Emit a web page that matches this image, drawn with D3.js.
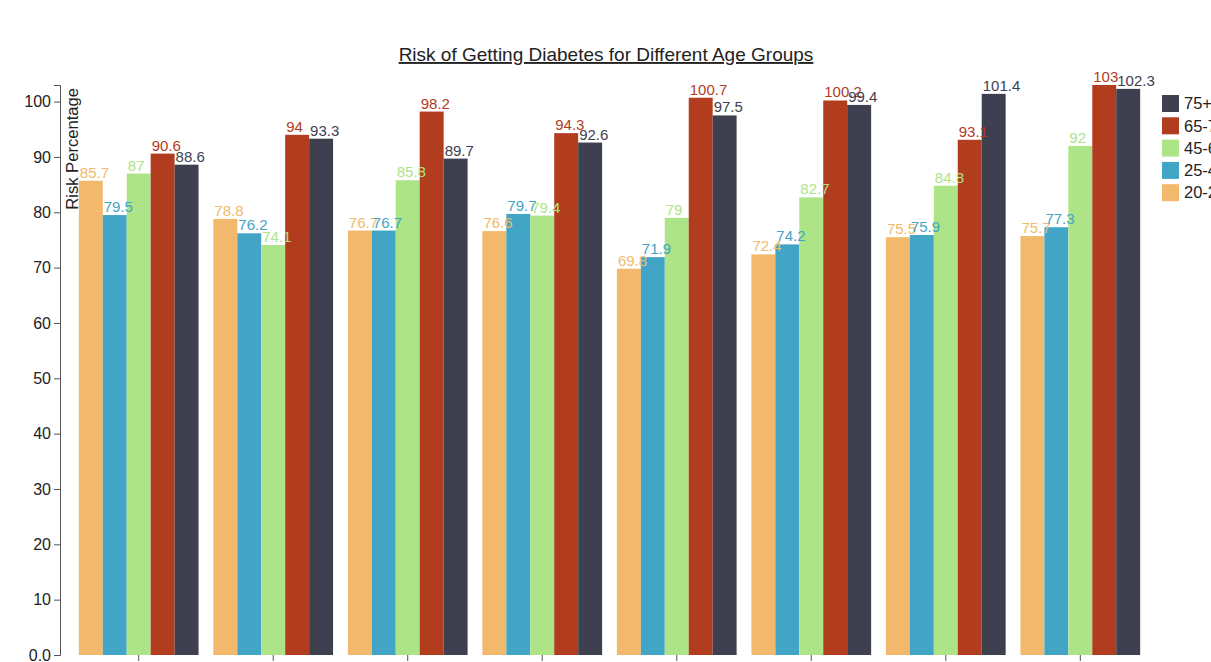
<!DOCTYPE html>
<html>
<head>
<meta charset="utf-8">
<script src="https://cdn.jsdelivr.net/npm/d3@7"></script>
<style>
  html, body { margin: 0; padding: 0; background: #fff; overflow: hidden; }
  svg { display: block; font-family: "Liberation Sans", Arial, sans-serif; }
</style>
</head>
<body>
<svg id="chart" width="1211" height="662"></svg>
<script>
const categories = ["G1", "G2", "G3", "G4", "G5", "G6", "G7", "G8"];
const seriesNames = ["20-24", "25-44", "45-64", "65-74", "75+"];
const s20_24 = [85.7, 78.8, 76.7, 76.6, 69.8, 72.4, 75.5, 75.7];
const s25_44 = [79.5, 76.2, 76.7, 79.7, 71.9, 74.2, 75.9, 77.3];
const s45_64 = [87, 74.1, 85.8, 79.4, 79, 82.7, 84.8, 92];
const s65_74 = [90.6, 94, 98.2, 94.3, 100.7, 100.2, 93.1, 103];
const s75p = [88.6, 93.3, 89.7, 92.6, 97.5, 99.4, 101.4, 102.3];
const yTicks = [0, 10, 20, 30, 40, 50, 60, 70, 80, 90, 100];
const yTickLabels = ["0.0", "10", "20", "30", "40", "50", "60", "70", "80", "90", "100"];
const colors = ["#f2b96c", "#42a5c6", "#ade488", "#b23c1e", "#3f404f"];
const title = "Risk of Getting Diabetes for Different Age Groups";
const yLabel = "Risk Percentage";

(function () {
const seriesValues = [s20_24, s25_44, s45_64, s65_74, s75p];
const data = categories.map((c, i) => ({
  cat: c,
  values: seriesNames.map((s, j) => ({ key: s, value: seriesValues[j][i], idx: j }))
}));

const svg = d3.select("#chart");
const mLeft = 60, mRight = 1159, mTop = 85, mBottom = 655;

const x0 = d3.scaleBand().domain(categories).range([mLeft, mRight]).paddingInner(0.11).paddingOuter(0.14);
const x1 = d3.scaleBand().domain(seriesNames).range([0, x0.bandwidth()]);
const y = d3.scaleLinear().domain([0, d3.max(seriesValues.flat())]).range([mBottom, mTop]);
const color = d3.scaleOrdinal().domain(seriesNames).range(colors);

// title
svg.append("text")
  .attr("x", 606).attr("y", 61)
  .attr("text-anchor", "middle")
  .style("font-size", "19px")
  .style("text-decoration", "underline")
  .attr("fill", "#222")
  .text(title);

// groups
const g = svg.append("g").selectAll("g").data(data).join("g")
  .attr("transform", d => `translate(${x0(d.cat)},0)`);

g.selectAll("rect").data(d => d.values).join("rect")
  .attr("x", d => x1(d.key))
  .attr("width", x1.bandwidth())
  .attr("y", d => y(d.value))
  .attr("height", d => y(0) - y(d.value))
  .attr("fill", d => color(d.key));

g.selectAll("text.lbl").data(d => d.values).join("text")
  .attr("class", "lbl")
  .attr("x", d => x1(d.key) + 1)
  .attr("y", d => y(d.value) - 3)
  .attr("fill", d => color(d.key))
  .style("font-size", "15px")
  .text(d => d.value);

// x axis (ticks only)
const xAxis = svg.append("g")
  .attr("transform", `translate(0,${mBottom})`)
  .call(d3.axisBottom(x0).tickSizeOuter(0).tickFormat(() => ""));
xAxis.select(".domain").remove();
xAxis.selectAll(".tick line").attr("stroke", "#555");

// y axis
const yAxis = svg.append("g")
  .attr("transform", `translate(${mLeft},0)`)
  .call(d3.axisLeft(y).tickValues(yTicks).tickFormat((d, i) => yTickLabels[i]));
yAxis.selectAll(".tick text").style("font-size", "16px").attr("fill", "#222").style("font-family", "Liberation Sans, Arial, sans-serif");
yAxis.selectAll("path, line").attr("stroke", "#555");

yAxis.append("text")
  .attr("transform", "rotate(-90)")
  .attr("x", -88)
  .attr("y", 6)
  .attr("dy", "0.71em")
  .attr("text-anchor", "end")
  .attr("fill", "#222")
  .style("font-size", "16.6px")
  .style("font-family", "Liberation Sans, Arial, sans-serif")
  .text(yLabel);

// legend
const legend = svg.append("g").selectAll("g").data(seriesNames.slice().reverse()).join("g")
  .attr("transform", (d, i) => `translate(1162,${95 + i * 22.3})`);
legend.append("rect")
  .attr("width", 17).attr("height", 17)
  .attr("fill", d => color(d));
legend.append("text")
  .attr("x", 22).attr("y", 8.5).attr("dy", "0.35em")
  .style("font-size", "16.5px")
  .attr("fill", "#222")
  .text(d => d);
})();
</script>
</body>
</html>
